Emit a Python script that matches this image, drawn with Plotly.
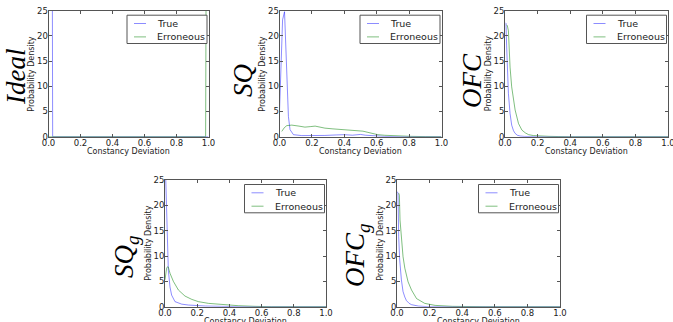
import plotly.graph_objects as go

W, H = 673, 322

# ---------------- data ----------------
x_tick_vals = [0.0, 0.2, 0.4, 0.6, 0.8, 1.0]
x_tick_labels = ["0.0", "0.2", "0.4", "0.6", "0.8", "1.0"]
y_tick_vals = [0, 5, 10, 15, 20, 25]
y_tick_labels = ["0", "5", "10", "15", "20", "25"]

series_names = ["True", "Erroneous"]
panel_names = ["<i>Ideal</i>", "<i>SQ</i>", "<i>OFC</i>",
               "<i>SQ<sub>g</sub></i>", "<i>OFC<sub>g</sub></i>"]
x_title = "Constancy Deviation"
y_title = "Probability Density"

ideal_true_x = [0.0, 0.024, 0.026, 1.0]
ideal_true_y = [30, 30, 0, 0]
ideal_err_x = [0.0, 0.982, 0.985, 1.0]
ideal_err_y = [0, 0, 30, 30]

sq_true_x = [0.0, 0.010, 0.019, 0.031, 0.045, 0.055, 0.065, 0.086, 0.137, 0.20, 0.28,
             0.35, 0.40, 0.45, 0.48, 0.50, 0.53, 0.58, 0.65, 0.75, 1.0]
sq_true_y = [5.0, 14.0, 23.2, 24.8, 13.9, 4.0, 1.4, 0.4, 0.22, 0.2, 0.25,
             0.35, 0.4, 0.3, 0.35, 0.45, 0.3, 0.15, 0.05, 0.0, 0.0]
sq_err_x = [0.014, 0.030, 0.045, 0.076, 0.12, 0.157, 0.19, 0.22, 0.25, 0.28, 0.33, 0.38,
            0.43, 0.485, 0.515, 0.546, 0.575, 0.607, 0.65, 0.69, 0.75, 0.81, 0.90, 1.0]
sq_err_y = [1.05, 1.8, 2.2, 2.3, 2.1, 1.9, 2.0, 2.1, 1.9, 1.7, 1.55, 1.45,
            1.35, 1.25, 1.1, 0.86, 0.6, 0.4, 0.28, 0.2, 0.12, 0.07, 0.02, 0.0]

ofc_true_x = [0.003, 0.006, 0.010, 0.0145, 0.021, 0.031, 0.041, 0.052, 0.062, 0.075,
              0.093, 0.12, 0.145, 0.2, 1.0]
ofc_true_y = [22.6, 22.5, 18.0, 13.8, 8.55, 4.6, 2.3, 1.2, 0.66, 0.3,
              0.13, 0.05, 0.0, 0.0, 0.0]
ofc_err_x = [0.010, 0.0145, 0.021, 0.025, 0.031, 0.041, 0.052, 0.062, 0.083, 0.104,
             0.125, 0.145, 0.175, 0.207, 0.27, 0.33, 0.39, 1.0]
ofc_err_y = [22.2, 22.0, 21.0, 17.1, 13.8, 9.9, 7.2, 5.3, 2.6, 1.3,
             0.75, 0.4, 0.22, 0.13, 0.07, 0.03, 0.0, 0.0]

sqg_true_x = [0.004, 0.0104, 0.0166, 0.0207, 0.031, 0.041, 0.062, 0.083, 0.104, 0.145,
              0.20, 0.25, 0.35, 0.46, 1.0]
sqg_true_y = [26.0, 17.1, 10.5, 7.2, 3.9, 2.3, 1.0, 0.7, 0.5, 0.33,
              0.2, 0.13, 0.07, 0.0, 0.0]
sqg_err_x = [0.0, 0.010, 0.0166, 0.0207, 0.031, 0.052, 0.083, 0.124, 0.166, 0.207,
             0.27, 0.35, 0.455, 0.56, 0.66, 1.0]
sqg_err_y = [5.3, 7.6, 7.9, 7.8, 6.6, 5.0, 3.3, 2.1, 1.45, 1.0,
             0.66, 0.4, 0.2, 0.07, 0.0, 0.0]

ofcg_true_x = [0.002, 0.006, 0.0104, 0.0166, 0.027, 0.037, 0.048, 0.058, 0.075, 0.089,
               0.13, 0.19, 1.0]
ofcg_true_y = [22.7, 22.4, 13.8, 9.2, 5.3, 3.0, 1.9, 1.2, 0.65, 0.4,
               0.13, 0.0, 0.0]
ofcg_err_x = [0.0104, 0.0145, 0.0186, 0.027, 0.037, 0.048, 0.068, 0.089, 0.12, 0.17,
              0.234, 0.34, 0.54, 1.0]
ofcg_err_y = [22.4, 22.0, 17.1, 13.2, 9.9, 7.6, 4.9, 3.3, 1.6, 0.66,
              0.26, 0.07, 0.0, 0.0]

panels = [
    (ideal_true_x, ideal_true_y, ideal_err_x, ideal_err_y),
    (sq_true_x, sq_true_y, sq_err_x, sq_err_y),
    (ofc_true_x, ofc_true_y, ofc_err_x, ofc_err_y),
    (sqg_true_x, sqg_true_y, sqg_err_x, sqg_err_y),
    (ofcg_true_x, ofcg_true_y, ofcg_err_x, ofcg_err_y),
]

# ---------------- layout (pixels) ----------------
# (left, right, top, bottom) of each plot area
boxes = [(48.5, 208.5, 10.7, 136.7),
         (279.5, 441.5, 10.7, 136.7),
         (505.0, 668.0, 10.7, 136.7),
         (165.0, 326.0, 180.0, 306.7),
         (397.0, 560.0, 180.0, 306.7)]
# centers of the big rotated panel labels
label_pos = [(16, 77), (243, 81), (472, 80), (126, 257), (357, 256)]

BLUE = "rgba(0,0,255,0.45)"
GREEN = "rgba(0,128,0,0.5)"
colors = [BLUE, GREEN]
FRAME = "#555555"
TXT = "#222222"
FONT = "DejaVu Sans"

def px(x):
    return x / W

def py(y):
    return 1 - y / H

fig = go.Figure()
shapes = []
annotations = []

for i, (tx, ty, ex, ey) in enumerate(panels):
    n = "" if i == 0 else str(i + 1)
    xa, ya = "x" + n, "y" + n
    l, r, t, b = boxes[i]
    for j, (xs, ys) in enumerate([(tx, ty), (ex, ey)]):
        fig.add_trace(go.Scatter(x=xs, y=ys, mode="lines", name=series_names[j],
                                 line=dict(color=colors[j], width=1),
                                 xaxis=xa, yaxis=ya, showlegend=False,
                                 hoverinfo="skip"))
    common = dict(showline=True, linecolor=FRAME, linewidth=1, mirror="ticks",
                  ticks="inside", ticklen=3, tickcolor=FRAME, tickwidth=1,
                  showgrid=False, zeroline=False, automargin=False,
                  ticklabelstandoff=-2, ticklabeloverflow="allow",
                  tickfont=dict(family=FONT, size=8.5, color=TXT))
    fig.layout["xaxis" + n] = dict(
        common, domain=[px(l), px(r)], range=[0, 1], anchor=ya,
        tickvals=x_tick_vals, ticktext=x_tick_labels)
    fig.layout["yaxis" + n] = dict(
        common, domain=[py(b), py(t)], range=[0, 25], anchor=xa,
        tickvals=y_tick_vals, ticktext=y_tick_labels)

    # axis titles
    annotations.append(dict(text=x_title, xref="paper", yref="paper",
                            x=px((l + r) / 2), y=py(b + 14.5), xanchor="center",
                            yanchor="middle", showarrow=False,
                            font=dict(family=FONT, size=8, color=TXT)))
    annotations.append(dict(text=y_title, xref="paper", yref="paper",
                            x=px(l - 16.5), y=py((t + b) / 2), xanchor="center",
                            yanchor="middle", textangle=-90, showarrow=False,
                            font=dict(family=FONT, size=8, color=TXT)))

    # legend box (drawn manually for a compact matplotlib-like legend)
    lw_, lh_ = 80, 28.3
    lx1 = r - 1.5
    lx0 = lx1 - lw_
    ly0 = t + 4.5
    ly1 = ly0 + lh_
    shapes.append(dict(type="rect", xref="paper", yref="paper",
                       x0=px(lx0), x1=px(lx1), y0=py(ly1), y1=py(ly0),
                       fillcolor="white", line=dict(color=FRAME, width=1)))
    for j in range(2):
        yy = ly0 + 8.3 + j * 13.4
        shapes.append(dict(type="line", xref="paper", yref="paper",
                           x0=px(lx0 + 7), x1=px(lx0 + 19), y0=py(yy), y1=py(yy),
                           line=dict(color=colors[j], width=1)))
        annotations.append(dict(text=series_names[j], xref="paper", yref="paper",
                                x=px(lx0 + 28), y=py(yy), xanchor="left",
                                yanchor="middle", showarrow=False,
                                font=dict(family=FONT, size=9.5, color=TXT)))
    cx, cy = label_pos[i]
    annotations.append(dict(text=panel_names[i], xref="paper", yref="paper",
                            x=px(cx), y=py(cy), xanchor="center", yanchor="middle",
                            textangle=-90, showarrow=False,
                            font=dict(family="Liberation Serif", size=27, color="black")))

fig.update_layout(width=W, height=H, margin=dict(l=0, r=0, t=0, b=0, autoexpand=False),
                  paper_bgcolor="white", plot_bgcolor="white",
                  shapes=shapes, annotations=annotations, showlegend=False)

fig.write_html("out.html", config={"displayModeBar": False},
               post_script="document.body.style.margin='0';document.body.style.padding='0';")
